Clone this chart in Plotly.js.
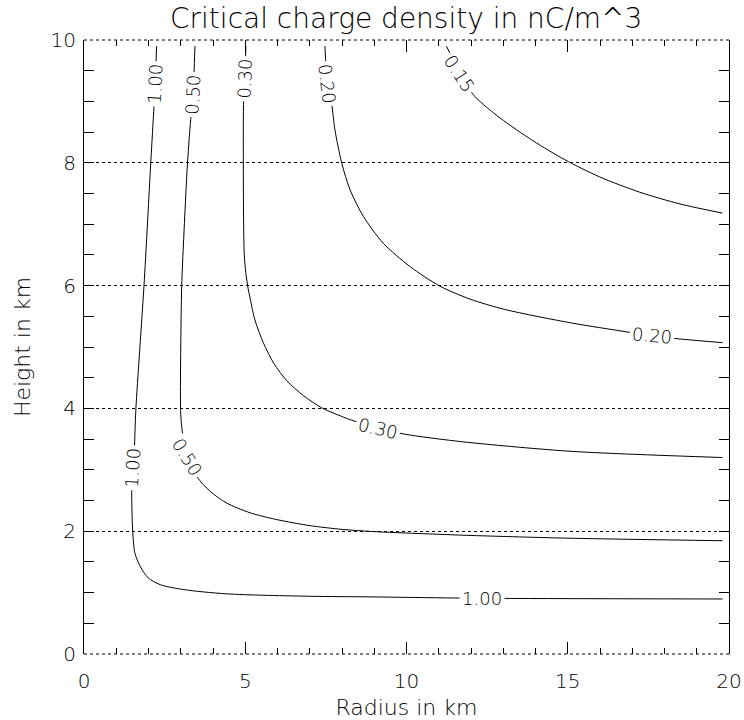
<!DOCTYPE html>
<html>
<head>
<meta charset="utf-8">
<script src="https://cdn.plot.ly/plotly-3.0.1.min.js"></script>
<style>html,body{margin:0;padding:0;background:#fff;}#chart{width:744px;height:720px;}</style>
</head>
<body>
<div id="chart"></div>
<script>
// Contour levels (critical charge density, nC/m^3)
const levels = ["1.00", "0.50", "0.30", "0.20", "0.15"];

// Radius (km) / height (km) points along each contour
const r100 = [2.25, 2.21, 2.17, 2.07, 1.86, 1.61, 1.56, 1.52, 1.48, 1.51, 1.58, 1.74, 1.99, 2.36, 3.08, 4.42, 7.01, 8.93, 11.5, 13.22, 19.8];
const h100 = [9.90, 9.30, 8.92, 8.00, 6.00, 4.00, 3.33, 3.03, 2.70, 2.00, 1.64, 1.43, 1.24, 1.13, 1.05, 0.98, 0.94, 0.93, 0.912, 0.905, 0.896];

const r050 = [3.44, 3.38, 3.32, 3.21, 3.09, 3.03, 3.00, 2.99, 3.00, 3.04, 3.08, 3.20, 3.51, 3.91, 4.42, 5.15, 5.97, 7.01, 8.00, 8.93, 10.5, 12.03, 15.13, 19.8];
const h050 = [9.90, 9.11, 8.78, 8.00, 6.75, 6.00, 5.00, 4.20, 3.90, 3.65, 3.52, 3.21, 2.88, 2.65, 2.46, 2.30, 2.19, 2.09, 2.03, 1.995, 1.96, 1.93, 1.885, 1.845];

const r030 = [5.02, 4.99, 4.95, 4.94, 4.95, 4.97, 5.02, 5.09, 5.16, 5.30, 5.56, 5.89, 6.29, 6.80, 7.37, 7.94, 8.40, 9.13, 9.95, 10.73, 12.03, 15.13, 19.8];
const h030 = [9.90, 9.37, 9.04, 8.00, 7.00, 6.50, 6.20, 5.95, 5.77, 5.44, 5.07, 4.73, 4.45, 4.21, 4.01, 3.88, 3.79, 3.68, 3.58, 3.52, 3.44, 3.30, 3.20];

const r020 = [7.47, 7.55, 7.68, 7.78, 7.99, 8.25, 8.66, 9.28, 10.11, 11.04, 11.97, 13.06, 15.13, 16.78, 17.60, 18.49, 19.8];
const h020 = [9.90, 9.28, 8.95, 8.54, 8.00, 7.56, 7.13, 6.69, 6.31, 5.99, 5.78, 5.61, 5.39, 5.25, 5.18, 5.13, 5.07];

const r015 = [11.24, 11.41, 11.63, 12.12, 12.90, 13.92, 14.91, 15.99, 17.24, 18.48, 19.8];
const h015 = [9.90, 9.71, 9.45, 9.08, 8.73, 8.36, 8.05, 7.77, 7.52, 7.33, 7.18];

// Contour labels
const labelText  = ["1.00", "0.50", "0.30", "0.20", "0.15", "1.00", "0.50", "0.30", "0.20", "1.00"];
const labelR     = [2.21, 3.38, 4.99, 7.55, 11.63, 1.52, 3.18, 9.13, 17.60, 12.34];
const labelH     = [9.29, 9.11, 9.37, 9.28, 9.45, 3.03, 3.21, 3.68, 5.18, 0.91];
const labelAngle = [-87, -87, -88, 83, 57, -86, 59, 13, 5, 0];

// Axis ticks
const xTicks = [0, 5, 10, 15, 20];
const yTicks = [0, 2, 4, 6, 8, 10];

const FONT = "DejaVu Sans, Liberation Sans, sans-serif";
const TXT = "#000";

const series = [[r100, h100], [r050, h050], [r030, h030], [r020, h020], [r015, h015]];
const traces = series.map((s, i) => ({
  type: "scatter", mode: "lines", name: levels[i],
  x: s[0], y: s[1],
  line: {color: "#000", width: 1, shape: "spline", smoothing: 0.8},
  hoverinfo: "skip", showlegend: false
}));

const annotations = labelText.map((t, i) => ({
  x: labelR[i], y: labelH[i], xref: "x", yref: "y",
  text: t, showarrow: false, textangle: labelAngle[i],
  font: {family: FONT, size: 18, color: TXT, weight: 200},
  bgcolor: "#fff", borderpad: 2
}));

const dotted = "3px,3px";
const layout = {
  width: 744, height: 720,
  margin: {l: 84, r: 15, t: 40, b: 66, pad: 0},
  paper_bgcolor: "#fff", plot_bgcolor: "#fff",
  showlegend: false,
  title: {text: "Critical charge density in nC/m^3", font: {family: FONT, size: 28, color: TXT, weight: 200},
          x: 0.546, xanchor: "center", y: 0.975, yanchor: "middle", yref: "container"},
  xaxis: {
    range: [0, 20], tickvals: xTicks, ticktext: xTicks.map(String),
    ticks: "inside", ticklen: 12, tickwidth: 1, tickcolor: "#000",
    minor: {dtick: 1, ticks: "inside", ticklen: 6, tickwidth: 1, tickcolor: "#000", showgrid: false},
    mirror: "ticks", showline: false, showgrid: false, zeroline: false,
    tickfont: {family: FONT, size: 20, color: TXT, weight: 200}, ticklabelstandoff: 13,
    title: {text: "Radius in km", font: {family: FONT, size: 22, color: TXT, weight: 200}, standoff: 10}
  },
  yaxis: {
    range: [0, 10], tickvals: yTicks, ticktext: yTicks.map(String),
    ticks: "inside", ticklen: 0, tickcolor: "#000",
    minor: {dtick: 0.5, ticks: "inside", ticklen: 10, tickwidth: 1, tickcolor: "#000", showgrid: false},
    mirror: "ticks", showline: true, linecolor: "#000", linewidth: 1,
    showgrid: true, gridcolor: "#000", gridwidth: 1, griddash: dotted, zeroline: false,
    tickfont: {family: FONT, size: 20, color: TXT, weight: 200}, ticklabelstandoff: 3,
    title: {text: "Height in km", font: {family: FONT, size: 22, color: TXT, weight: 200}, standoff: 13}
  },
  shapes: [0, 1].map(p => ({
    type: "line", xref: "paper", yref: "paper", x0: 0, x1: 1, y0: p, y1: p,
    line: {color: "#000", width: 1, dash: dotted}, layer: "above"
  })),
  annotations: annotations
};

Plotly.newPlot("chart", traces, layout, {staticPlot: true, displayModeBar: false});
</script>
</body>
</html>
